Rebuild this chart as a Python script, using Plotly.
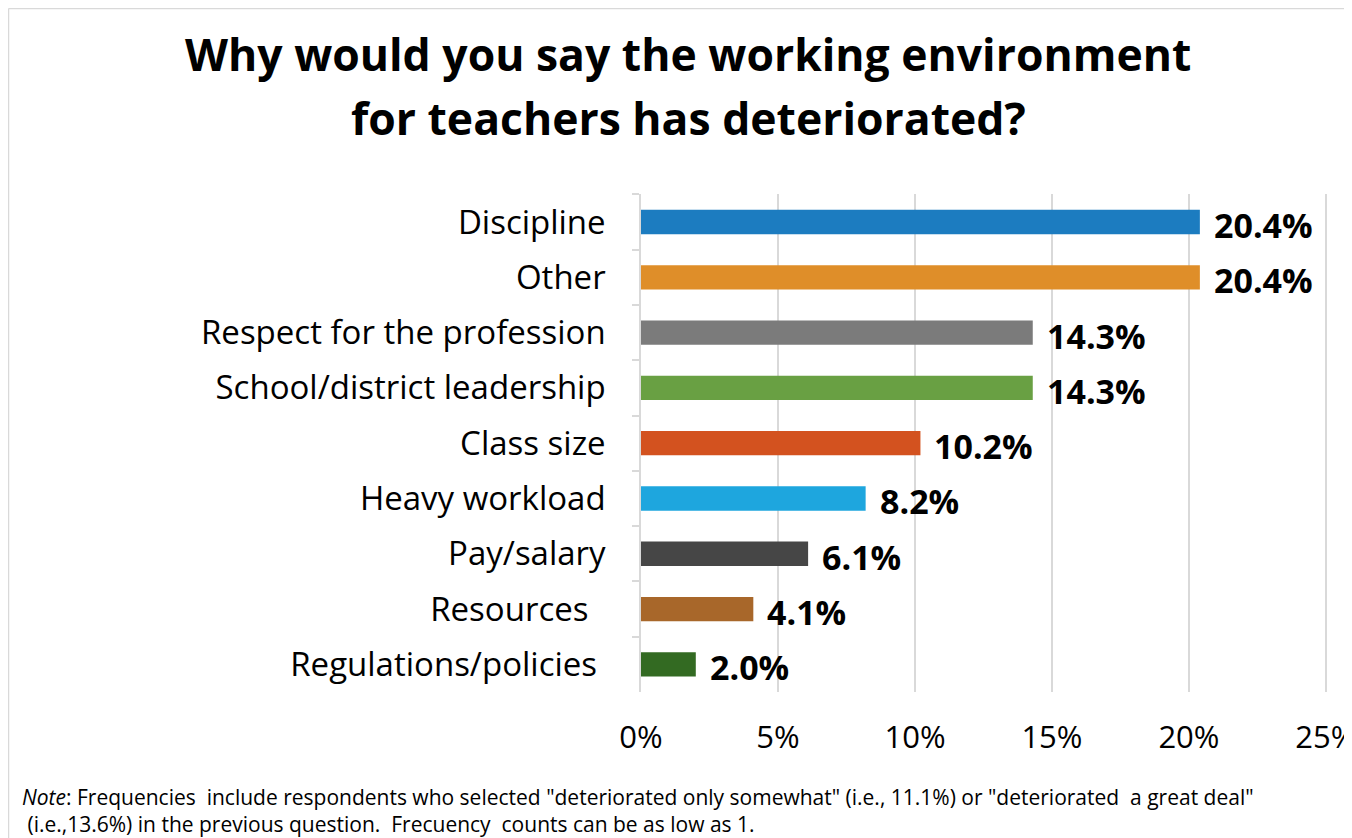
import plotly.graph_objects as go

categories = ["Discipline", "Other", "Respect for the profession", "School/district leadership",
              "Class size", "Heavy workload", "Pay/salary", "Resources\u00a0\u00a0", "Regulations/policies\u00a0"]
values = [20.4, 20.4, 14.3, 14.3, 10.2, 8.2, 6.1, 4.1, 2.0]
value_labels = ["20.4%", "20.4%", "14.3%", "14.3%", "10.2%", "8.2%", "6.1%", "4.1%", "2.0%"]
colors = ["#1C7CC0", "#DF8E29", "#7B7B7B", "#69A043", "#D3521F", "#1EA6DE", "#464646", "#A8672A", "#336A22"]
x_ticks = [0, 5, 10, 15, 20, 25]
x_tick_labels = ["0%", "5%", "10%", "15%", "20%", "25%"]
title_lines = ["Why would you say the working environment", "for teachers has deteriorated?"]

# page has an 8px body margin: figure pixel = screen pixel - 8
OFF = 8
XMAX = 25.15
W, H = 1352 - OFF, 838 - OFF
L = 641 - OFF
pw = round((1326 - 641) * XMAX / 25)
R = W - L - pw
T = 194 - OFF
B = H - (692 - OFF)
ph = H - T - B

def px_x(p):
    return (p - OFF - L) / pw

def px_y(p):
    return (H - B - (p - OFF)) / ph

FONT = "Open Sans"

fig = go.Figure()
fig.add_trace(go.Bar(
    y=categories, x=values, orientation="h",
    marker=dict(color=colors, line=dict(width=0)),
    width=0.44, hoverinfo="skip",
))

for c, v, t in zip(categories, values, value_labels):
    fig.add_annotation(x=v, y=c, xref="x", yref="y", text="<b>%s</b>" % t,
                       showarrow=False, xanchor="left", yanchor="middle", xshift=12, yshift=-3,
                       font=dict(family=FONT, size=34, color="#000000"))

# title (two lines placed separately)
for line, ypx in zip(title_lines, [53, 117]):
    fig.add_annotation(x=px_x(688), y=px_y(ypx), xref="paper", yref="paper",
                       text="<b>%s</b>" % line,
                       showarrow=False, xanchor="center", yanchor="middle",
                       font=dict(family=FONT, size=44.5, color="#000000"))

# note
fig.add_annotation(x=px_x(20), y=px_y(810), xref="paper", yref="paper", align="left",
                   text="<i>Note</i>: Frequencies  include respondents who selected \"deteriorated only somewhat\" (i.e., 11.1%) or \"deteriorated  a great deal\"<br>\u00a0(i.e.,13.6%) in the previous question.  Frecuency  counts can be as low as 1.",
                   showarrow=False, xanchor="left", yanchor="middle",
                   font=dict(family=FONT, size=21, color="#000000"))

# outer border (left and top edges)
fig.add_shape(type="line", xref="paper", yref="paper", x0=px_x(8.5), x1=px_x(8.5), y0=px_y(8.5), y1=px_y(850),
              line=dict(color="#D9D9D9", width=1.5))
fig.add_shape(type="line", xref="paper", yref="paper", x0=px_x(8.5), x1=px_x(1360), y0=px_y(8.5), y1=px_y(8.5),
              line=dict(color="#D9D9D9", width=1.5))

fig.update_layout(
    width=W, height=H,
    margin=dict(l=L, r=R, t=T, b=B, autoexpand=False),
    paper_bgcolor="white", plot_bgcolor="white",
    showlegend=False,
    font=dict(family=FONT, color="#000000"),
    xaxis=dict(range=[0, XMAX], tickvals=x_ticks, ticktext=x_tick_labels,
               showgrid=True, gridcolor="#D9D9D9", gridwidth=1.5, zeroline=False,
               showline=False, ticks="", ticklabelstandoff=24, ticklabeloverflow="allow",
               tickfont=dict(family=FONT, size=31, color="#000000")),
    yaxis=dict(categoryorder="array", categoryarray=categories, autorange="reversed",
               showgrid=False, zeroline=False, showline=True, linecolor="#D9D9D9", linewidth=1.5,
               ticks="outside", tickson="boundaries", ticklen=7, tickcolor="#D9D9D9", tickwidth=1.5,
               ticklabelstandoff=27,
               tickfont=dict(family=FONT, size=33, color="#000000")),
)

fig.write_html("out.html")
